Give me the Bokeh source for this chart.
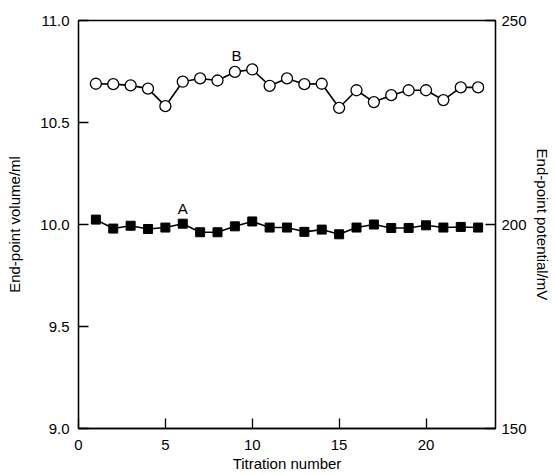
from bokeh.plotting import figure
from bokeh.models import Range1d, LinearAxis, FixedTicker, NumeralTickFormatter, ColumnDataSource
from bokeh.core.properties import value
from bokeh.embed import file_html
from bokeh.resources import INLINE

titration = list(range(1, 24))
volume_A = [10.024, 9.980, 9.994, 9.978, 9.985, 10.004, 9.962, 9.962, 9.991, 10.015,
            9.985, 9.985, 9.964, 9.975, 9.952, 9.985, 10.000, 9.983, 9.983, 9.996,
            9.985, 9.988, 9.985]
potential_B = [234.5, 234.4, 234.1, 233.3, 229.0, 235.0, 235.8, 235.3, 237.4, 238.0,
               234.0, 235.8, 234.4, 234.5, 228.6, 232.9, 230.0, 231.7, 232.9, 232.9,
               230.5, 233.6, 233.6]
x_ticks = [0, 5, 10, 15, 20]
left_ticks = [9.0, 9.5, 10.0, 10.5, 11.0]
right_ticks = [150, 200, 250]
labels = ["A", "B"]
label_x = [6.0, 9.1]
label_y = [10.076, 10.83]

FONT = "Liberation Sans"

p = figure(width=553, height=474, output_backend="svg", toolbar_location=None,
           x_range=Range1d(0, 24), y_range=Range1d(9, 11),
           min_border_left=78, min_border_right=56, min_border_top=20, min_border_bottom=42)
p.extra_y_ranges = {"mv": Range1d(150, 250)}
p.grid.visible = False
p.outline_line_color = "black"
p.outline_line_width = 1.3

def style(ax):
    ax.axis_line_color = "black"
    ax.axis_line_width = 1.3
    ax.major_tick_in = 10
    ax.major_tick_out = 0
    ax.minor_tick_in = 0
    ax.minor_tick_out = 0
    ax.major_tick_line_width = 1.3
    ax.major_label_text_font = FONT
    ax.major_label_text_font_size = "15px"
    ax.major_label_text_color = "black"
    ax.axis_label_text_font = FONT
    ax.axis_label_text_font_size = "15px"
    ax.axis_label_text_font_style = "normal"
    ax.axis_label_text_color = "black"

xa = p.xaxis[0]
style(xa)
xa.ticker = FixedTicker(ticks=x_ticks)
xa.axis_label = "Titration number"
xa.major_label_standoff = 11
xa.axis_label_standoff = 2

ya = p.yaxis[0]
style(ya)
ya.ticker = FixedTicker(ticks=left_ticks)
ya.formatter = NumeralTickFormatter(format="0.0")
ya.axis_label = "End-point volume/ml"
ya.major_label_standoff = 9
ya.axis_label_standoff = 14

ra = LinearAxis(y_range_name="mv", ticker=FixedTicker(ticks=right_ticks),
                axis_label="End-point potential/mV")
style(ra)
ra.major_label_standoff = 6
ra.axis_label_standoff = 4
p.add_layout(ra, "right")

p.line(titration, volume_A, line_color="black", line_width=1.6)
p.scatter(titration, volume_A, marker="square", size=9, fill_color="black", line_color="black")

p.line(titration, potential_B, line_color="black", line_width=1.6, y_range_name="mv")
p.scatter(titration, potential_B, marker="circle", size=11, fill_color="white",
          line_color="black", line_width=1.3, y_range_name="mv")

src = ColumnDataSource(dict(x=label_x, y=label_y, t=labels))
p.text("x", "y", text="t", source=src, text_font=value(FONT), text_font_size="15px",
       text_align="center", text_baseline="middle", text_color="black")

open("out.html", "w").write(file_html(p, INLINE))
